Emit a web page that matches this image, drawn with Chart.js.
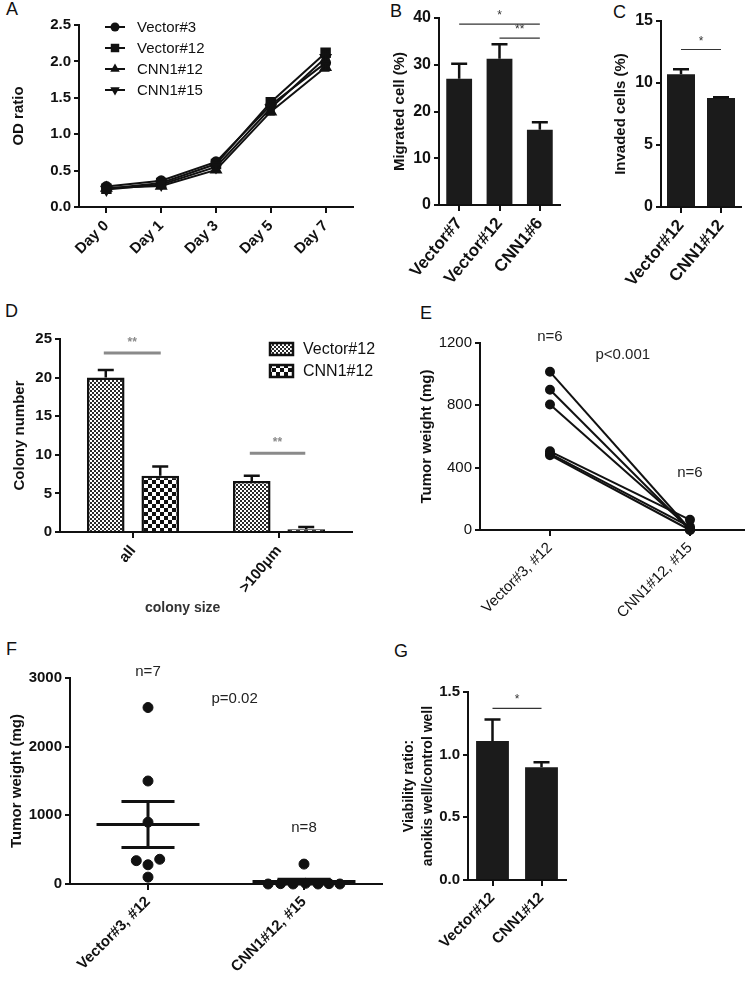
<!DOCTYPE html>
<html>
<head>
<meta charset="utf-8">
<script src="https://cdn.jsdelivr.net/npm/chart.js@4.4.1/dist/chart.umd.min.js"></script>
<style>
  body { margin: 0; background: #fff; width: 745px; height: 982px; position: relative; overflow: hidden;
         font-family: "Liberation Sans", Arial, sans-serif; }
  canvas { position: absolute; }
  .lbl { position: absolute; font-size: 18px; line-height: 18px; color: #111; }
</style>
</head>
<body>
<div class="lbl" style="left:6px;top:0px">A</div>
<div class="lbl" style="left:390px;top:2px">B</div>
<div class="lbl" style="left:613px;top:3px">C</div>
<div class="lbl" style="left:5px;top:302px">D</div>
<div class="lbl" style="left:420px;top:304px">E</div>
<div class="lbl" style="left:6px;top:640px">F</div>
<div class="lbl" style="left:394px;top:642px">G</div>

<canvas id="chartA"></canvas>
<canvas id="chartB"></canvas>
<canvas id="chartC"></canvas>
<canvas id="chartD"></canvas>
<canvas id="chartE"></canvas>
<canvas id="chartF"></canvas>
<canvas id="chartG"></canvas>

<script>
// ---- data ----
const aDays = ['Day 0', 'Day 1', 'Day 3', 'Day 5', 'Day 7'];
const aNames = ['Vector#3', 'Vector#12', 'CNN1#12', 'CNN1#15'];
const aVector3 = [0.28, 0.36, 0.62, 1.40, 1.98];
const aVector12 = [0.25, 0.33, 0.59, 1.44, 2.12];
const aCnn12 = [0.26, 0.29, 0.51, 1.31, 1.92];
const aCnn15 = [0.24, 0.31, 0.55, 1.36, 2.05];
const aVector3Err = [0.02, 0.02, 0.03, 0.05, 0.05];
const aVector12Err = [0.02, 0.02, 0.02, 0.04, 0.04];
const aCnn12Err = [0.02, 0.02, 0.02, 0.04, 0.05];
const aCnn15Err = [0.02, 0.02, 0.03, 0.04, 0.05];

const bLabels = ['Vector#7', 'Vector#12', 'CNN1#6'];
const bValues = [27.0, 31.3, 16.1];
const bErrors = [3.2, 3.1, 1.6];

const cLabels = ['Vector#12', 'CNN1#12'];
const cValues = [10.7, 8.8];
const cErrors = [0.4, 0.05];

const dLabels = ['all', '>100μm'];
const dVector = [20.0, 6.6];
const dVectorErr = [1.0, 0.7];
const dCnn = [7.3, 0.35];
const dCnnErr = [1.2, 0.3];

const eLabels = ['Vector#3, #12', 'CNN1#12, #15'];
const eVector = [1015, 900, 805, 505, 490, 480];
const eCnn = [5, 0, 10, 65, 20, 0];

const fLabels = ['Vector#3, #12', 'CNN1#12, #15'];
const fVector = [2570, 1500, 900, 340, 280, 360, 100];
const fVectorSpread = [0, 0, 0, -0.075, 0, 0.075, 0];
const fCnn = [290, 0, 5, 0, 10, 0, 5, 0];
const fCnnSpread = [0, -0.23, -0.15, -0.07, 0.01, 0.09, 0.16, 0.23];
const fMean = [865, 35];
const fSem = [335, 35];

const gLabels = ['Vector#12', 'CNN1#12'];
const gValues = [1.11, 0.90];
const gErrors = [0.17, 0.04];

const INK = '#111';
const BAR = '#1b1b1b';
const FONT = '"Liberation Sans", Arial, sans-serif';

Chart.defaults.font.family = FONT;
Chart.defaults.font.size = 14;
Chart.defaults.color = INK;
Chart.defaults.animation = false;

// ---- plugins ----
// error bars from dataset.errors
const errorBars = {
    id: 'errorBars',
    afterDatasetsDraw(chart) {
        const ctx = chart.ctx;
        const ys = chart.scales.y;
        chart.data.datasets.forEach((ds, di) => {
            if (!ds.errors) return;
            const meta = chart.getDatasetMeta(di);
            meta.data.forEach((el, i) => {
                const raw = ds.data[i];
                const v = typeof raw === 'object' ? raw.y : raw;
                const top = ys.getPixelForValue(v + ds.errors[i]);
                const bot = ds.errorBoth ? ys.getPixelForValue(v - ds.errors[i]) : el.y;
                const cap = ds.errorCap || 8;
                ctx.save();
                ctx.strokeStyle = INK;
                ctx.lineWidth = ds.errorWidth || 2.5;
                ctx.beginPath();
                ctx.moveTo(el.x, top); ctx.lineTo(el.x, bot);
                ctx.moveTo(el.x - cap, top); ctx.lineTo(el.x + cap, top);
                if (ds.errorBoth) { ctx.moveTo(el.x - cap, bot); ctx.lineTo(el.x + cap, bot); }
                ctx.stroke();
                ctx.restore();
            });
        });
    }
};

// text, significance bars and mean/SEM marks in data coordinates
const notes = {
    id: 'notes',
    afterDraw(chart, args, opts) {
        const items = opts.items;
        if (!items) return;
        const ctx = chart.ctx, xs = chart.scales.x, ys = chart.scales.y;
        for (let k = 0; k < items.length; k++) {
            const it = items[k];
            ctx.save();
            if (it.type === 'text') {
                ctx.font = it.font;
                ctx.fillStyle = it.color || '#222';
                ctx.textAlign = 'center';
                ctx.textBaseline = 'middle';
                ctx.fillText(it.text, xs.getPixelForValue(it.x), ys.getPixelForValue(it.y));
            } else if (it.type === 'sig') {
                const x1 = xs.getPixelForValue(it.from), x2 = xs.getPixelForValue(it.to);
                const yy = ys.getPixelForValue(it.y);
                ctx.strokeStyle = it.color;
                ctx.lineWidth = it.width;
                ctx.beginPath(); ctx.moveTo(x1, yy); ctx.lineTo(x2, yy); ctx.stroke();
                ctx.font = it.font;
                ctx.fillStyle = it.color;
                ctx.textAlign = 'center';
                ctx.textBaseline = 'alphabetic';
                ctx.fillText(it.text, (x1 + x2) / 2, yy - it.lift);
            } else if (it.type === 'meanSem') {
                const m = ys.getPixelForValue(it.mean);
                const hi = ys.getPixelForValue(it.mean + it.sem);
                const lo = ys.getPixelForValue(it.mean - it.sem);
                const xc = xs.getPixelForValue(it.x);
                const wm = xs.getPixelForValue(it.x + 0.33) - xc;
                const wc = xs.getPixelForValue(it.x + 0.17) - xc;
                ctx.strokeStyle = INK;
                ctx.lineWidth = 3;
                ctx.beginPath();
                ctx.moveTo(xc - wm, m); ctx.lineTo(xc + wm, m);
                ctx.moveTo(xc, hi); ctx.lineTo(xc, lo);
                ctx.moveTo(xc - wc, hi); ctx.lineTo(xc + wc, hi);
                ctx.moveTo(xc - wc, lo); ctx.lineTo(xc + wc, lo);
                ctx.stroke();
            }
            ctx.restore();
        }
    }
};

function marker(ctx, style, rot, r, x, y) {
    ctx.beginPath();
    if (style === 'circle') {
        ctx.arc(x, y, r, 0, Math.PI * 2);
    } else if (style === 'rect') {
        const s = r * Math.SQRT1_2;
        ctx.rect(x - s, y - s, 2 * s, 2 * s);
    } else {
        const d = rot === 180 ? -1 : 1;
        ctx.moveTo(x, y - d * r);
        ctx.lineTo(x + r * 0.866, y + d * r * 0.5);
        ctx.lineTo(x - r * 0.866, y + d * r * 0.5);
        ctx.closePath();
    }
    ctx.fill();
}

// legend drawn at a fixed place inside the panel
const panelLegend = {
    id: 'panelLegend',
    afterDraw(chart, args, o) {
        if (!o.kind) return;
        const ctx = chart.ctx;
        chart.data.datasets.forEach((ds, i) => {
            const yy = o.y + i * o.gap;
            ctx.save();
            if (o.kind === 'line') {
                ctx.strokeStyle = INK; ctx.lineWidth = 2;
                ctx.beginPath(); ctx.moveTo(o.x, yy); ctx.lineTo(o.x + o.len, yy); ctx.stroke();
                ctx.fillStyle = INK;
                marker(ctx, ds.pointStyle, ds.pointRotation, ds.pointRadius, o.x + o.len / 2, yy);
            } else {
                ctx.fillStyle = ds.backgroundColor;
                ctx.fillRect(o.x, yy - o.boxH / 2, o.len, o.boxH);
                ctx.strokeStyle = INK; ctx.lineWidth = 2.5;
                ctx.strokeRect(o.x, yy - o.boxH / 2, o.len, o.boxH);
            }
            ctx.fillStyle = INK;
            ctx.font = o.font;
            ctx.textAlign = 'left';
            ctx.textBaseline = 'middle';
            ctx.fillText(ds.label, o.textX, yy + 1);
            ctx.restore();
        });
    }
};

Chart.register(errorBars, notes, panelLegend);

// ---- layout helpers ----
function frame(id, canvasRect, area) {
    const [cx, cy, cw, ch] = canvasRect;
    const [l, t, r, b] = area;
    const el = document.getElementById(id);
    el.width = cw; el.height = ch;
    el.style.left = cx + 'px'; el.style.top = cy + 'px';
    return { el, yWidth: l - cx, xHeight: cy + ch - b,
             padding: { top: t - cy, right: cx + cw - r, left: 0, bottom: 0 } };
}

function clearPad(s) { s.paddingLeft = s.paddingRight = s.paddingTop = s.paddingBottom = 0; }

function xAxis(f, extra) {
    return Object.assign({
        afterFit: s => { s.height = f.xHeight; clearPad(s); },
        border: { display: true, color: INK, width: 2 },
        grid: { display: true, drawOnChartArea: false, drawTicks: true, tickLength: 6,
                color: INK, lineWidth: 2, offset: false }
    }, extra);
}

function yAxis(f, extra) {
    return Object.assign({
        afterFit: s => { s.width = f.yWidth; clearPad(s); },
        border: { display: true, color: INK, width: 2 },
        grid: { display: true, drawOnChartArea: false, drawTicks: true, tickLength: 5,
                color: INK, lineWidth: 2 }
    }, extra);
}

function options(f, x, y, plugins) {
    return {
        responsive: false,
        animation: false,
        layout: { padding: f.padding, autoPadding: false },
        plugins: Object.assign({ legend: { display: false }, tooltip: { enabled: false } }, plugins),
        scales: { x: x, y: y }
    };
}

const tickFont = { size: 15, weight: 'bold' };
const bigTick = { size: 17, weight: 'bold' };
const titleFont = { size: 15, weight: 'bold' };
const plain = v => String(v);

function yTitle(text, pad, font) {
    return { display: true, text: text, font: font || titleFont, padding: { top: pad, bottom: 0 } };
}

function checker(cell, dark, light) {
    const c = document.createElement('canvas');
    c.width = c.height = cell * 2;
    const g = c.getContext('2d');
    g.fillStyle = light; g.fillRect(0, 0, cell * 2, cell * 2);
    g.fillStyle = dark; g.fillRect(0, 0, cell, cell); g.fillRect(cell, cell, cell, cell);
    return g.createPattern(c, 'repeat');
}

// ---- A: growth curve ----
const fa = frame('chartA', [0, 0, 372, 300], [79, 25, 353, 207]);
const aSeries = [aVector3, aVector12, aCnn12, aCnn15];
const aErrs = [aVector3Err, aVector12Err, aCnn12Err, aCnn15Err];
const aStyles = ['circle', 'rect', 'triangle', 'triangle'];
const aRot = [0, 0, 0, 180];
const aRadius = [4.5, 6, 5.5, 5.5];
new Chart(fa.el, {
    type: 'line',
    data: {
        labels: aDays,
        datasets: aSeries.map((vals, i) => ({
            label: aNames[i], data: vals, errors: aErrs[i], errorBoth: true, errorCap: 4, errorWidth: 2,
            borderColor: INK, backgroundColor: INK, borderWidth: 2, tension: 0, clip: false,
            pointStyle: aStyles[i], pointRotation: aRot[i], pointRadius: aRadius[i],
            pointBackgroundColor: INK, pointBorderColor: INK
        }))
    },
    options: options(fa,
        xAxis(fa, { offset: true, ticks: { font: tickFont, minRotation: 45, maxRotation: 45, autoSkip: false, padding: 4 } }),
        yAxis(fa, { min: 0, max: 2.5, ticks: { stepSize: 0.5, font: tickFont, padding: 3, callback: v => v.toFixed(1) },
                    title: yTitle('OD ratio', 10) }),
        { panelLegend: { kind: 'line', x: 105, y: 27, gap: 21, len: 20, textX: 137, font: '15px ' + FONT } })
});

// ---- B: migration ----
const fb = frame('chartB', [380, 0, 190, 300], [439, 18, 560, 205]);
new Chart(fb.el, {
    type: 'bar',
    data: {
        labels: bLabels,
        datasets: [{ data: bValues, errors: bErrors, backgroundColor: BAR, borderWidth: 0,
                     categoryPercentage: 1, barPercentage: 0.64 }]
    },
    options: options(fb,
        xAxis(fb, { ticks: { font: bigTick, minRotation: 50, maxRotation: 50, autoSkip: false, padding: 3 } }),
        yAxis(fb, { min: 0, max: 40, ticks: { stepSize: 10, font: { size: 16, weight: 'bold' }, padding: 3, callback: plain },
                    title: yTitle('Migrated cell (%)', 11) }),
        { notes: { items: [
            { type: 'sig', from: 0, to: 2, y: 38.7, text: '*', color: '#333', width: 1.2, lift: 5, font: '12px ' + FONT },
            { type: 'sig', from: 1, to: 2, y: 35.7, text: '**', color: '#333', width: 1.2, lift: 5, font: '12px ' + FONT }
        ] } })
});

// ---- C: invasion ----
const fc = frame('chartC', [605, 0, 140, 300], [661, 21, 741, 207]);
new Chart(fc.el, {
    type: 'bar',
    data: {
        labels: cLabels,
        datasets: [{ data: cValues, errors: cErrors, backgroundColor: BAR, borderWidth: 0,
                     categoryPercentage: 1, barPercentage: 0.7 }]
    },
    options: options(fc,
        xAxis(fc, { ticks: { font: bigTick, minRotation: 50, maxRotation: 50, autoSkip: false, padding: 3 } }),
        yAxis(fc, { min: 0, max: 15, ticks: { stepSize: 5, font: { size: 16, weight: 'bold' }, padding: 3, callback: plain },
                    title: yTitle('Invaded cells (%)', 7) }),
        { notes: { items: [
            { type: 'sig', from: 0, to: 1, y: 12.7, text: '*', color: '#333', width: 1.2, lift: 5, font: '12px ' + FONT }
        ] } })
});

// ---- D: colony formation ----
const fd = frame('chartD', [0, 320, 400, 300], [60, 339, 352, 532]);
new Chart(fd.el, {
    type: 'bar',
    data: {
        labels: dLabels,
        datasets: [
            { label: 'Vector#12', data: dVector, errors: dVectorErr, backgroundColor: checker(2, '#2a2a2a', '#ffffff'),
              borderColor: INK, borderWidth: 2.5, categoryPercentage: 0.746, barPercentage: 0.69 },
            { label: 'CNN1#12', data: dCnn, errors: dCnnErr, backgroundColor: checker(4, '#111111', '#ffffff'),
              borderColor: INK, borderWidth: 2.5, categoryPercentage: 0.746, barPercentage: 0.69 }
        ]
    },
    options: options(fd,
        xAxis(fd, { ticks: { font: tickFont, minRotation: 50, maxRotation: 50, autoSkip: false, padding: 4 } }),
        yAxis(fd, { min: 0, max: 25, ticks: { stepSize: 5, font: tickFont, padding: 3, callback: plain },
                    title: yTitle('Colony number', 11) }),
        {
            panelLegend: { kind: 'box', x: 270, y: 29, gap: 22, len: 23, boxH: 12, textX: 303, font: '16px ' + FONT },
            notes: { items: [
                { type: 'sig', from: -0.2, to: 0.19, y: 23.2, text: '**', color: '#8a8a8a', width: 3, lift: 7, font: 'bold 12px ' + FONT },
                { type: 'sig', from: 0.8, to: 1.18, y: 10.2, text: '**', color: '#8a8a8a', width: 3, lift: 7, font: 'bold 12px ' + FONT },
                { type: 'text', x: 0.34, y: -9.8, text: 'colony size', font: 'bold 14px ' + FONT, color: '#333' }
            ] }
        })
});

// ---- E: paired tumor weights ----
const fe = frame('chartE', [405, 320, 340, 300], [480, 343, 745, 530]);
new Chart(fe.el, {
    type: 'scatter',
    data: {
        datasets: eVector.map((v, i) => ({
            data: [{ x: 1, y: v }, { x: 2, y: eCnn[i] }],
            showLine: true, borderColor: INK, borderWidth: 2, clip: false,
            pointRadius: 4, pointBackgroundColor: INK, pointBorderColor: INK
        }))
    },
    options: options(fe,
        xAxis(fe, { type: 'linear', min: 0.5, max: 2.393,
                    afterBuildTicks: s => { s.ticks = [{ value: 1 }, { value: 2 }]; },
                    ticks: { font: { size: 15 }, minRotation: 45, maxRotation: 45, autoSkip: false, padding: 3,
                             callback: v => eLabels[v - 1] } }),
        yAxis(fe, { min: 0, max: 1200, ticks: { stepSize: 400, font: { size: 15 }, padding: 3, callback: plain },
                    title: yTitle('Tumor weight (mg)', 13) }),
        { notes: { items: [
            { type: 'text', x: 1, y: 1238, text: 'n=6', font: '15px ' + FONT },
            { type: 'text', x: 1.52, y: 1123, text: 'p<0.001', font: '15px ' + FONT },
            { type: 'text', x: 2, y: 366, text: 'n=6', font: '15px ' + FONT }
        ] } })
});

// ---- F: tumor weights scatter ----
const ff = frame('chartF', [0, 640, 400, 342], [70, 678, 382, 884]);
new Chart(ff.el, {
    type: 'scatter',
    data: {
        datasets: [
            { data: fVector.map((v, i) => ({ x: 1 + fVectorSpread[i], y: v })), clip: false,
              pointRadius: 5, pointBackgroundColor: INK, pointBorderColor: INK },
            { data: fCnn.map((v, i) => ({ x: 2 + fCnnSpread[i], y: v })), clip: false,
              pointRadius: 5, pointBackgroundColor: INK, pointBorderColor: INK }
        ]
    },
    options: options(ff,
        xAxis(ff, { type: 'linear', min: 0.5, max: 2.5,
                    afterBuildTicks: s => { s.ticks = [{ value: 1 }, { value: 2 }]; },
                    ticks: { font: tickFont, minRotation: 45, maxRotation: 45, autoSkip: false, padding: 3,
                             callback: v => fLabels[v - 1] } }),
        yAxis(ff, { min: 0, max: 3000, ticks: { stepSize: 1000, font: tickFont, padding: 3, callback: plain },
                    title: yTitle('Tumor weight (mg)', 7.5) }),
        { notes: { items: fMean.map((m, i) => ({ type: 'meanSem', x: i + 1, mean: m, sem: fSem[i] })).concat([
            { type: 'text', x: 1, y: 3087, text: 'n=7', font: '15px ' + FONT },
            { type: 'text', x: 1.555, y: 2694, text: 'p=0.02', font: '15px ' + FONT },
            { type: 'text', x: 2, y: 815, text: 'n=8', font: '15px ' + FONT }
        ]) } })
});

// ---- G: anoikis viability ----
const fg = frame('chartG', [395, 640, 350, 342], [468, 692, 566, 880]);
new Chart(fg.el, {
    type: 'bar',
    data: {
        labels: gLabels,
        datasets: [{ data: gValues, errors: gErrors, backgroundColor: BAR, borderWidth: 0,
                     categoryPercentage: 1, barPercentage: 0.67 }]
    },
    options: options(fg,
        xAxis(fg, { ticks: { font: { size: 15, weight: 'bold' }, minRotation: 45, maxRotation: 45, autoSkip: false, padding: 3 } }),
        yAxis(fg, { min: 0, max: 1.5, ticks: { stepSize: 0.5, font: tickFont, padding: 3, callback: v => v.toFixed(1) },
                    title: { display: true, text: ['Viability ratio:', 'anoikis well/control well'],
                             font: { size: 14, weight: 'bold', lineHeight: 1.35 }, padding: { top: 4.5, bottom: 0 } } }),
        { notes: { items: [
            { type: 'sig', from: 0, to: 1, y: 1.37, text: '*', color: '#333', width: 1.2, lift: 5, font: '12px ' + FONT }
        ] } })
});
</script>
</body>
</html>
